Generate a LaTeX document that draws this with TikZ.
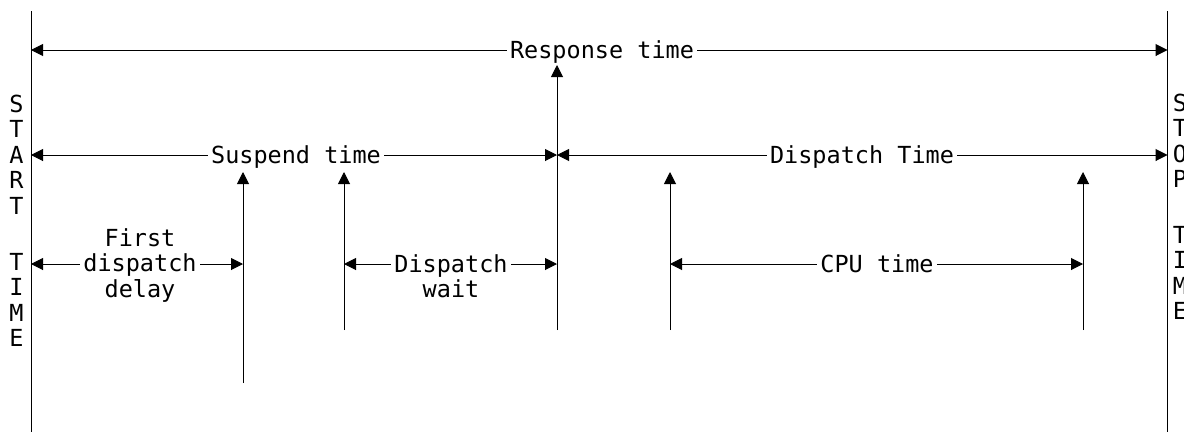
\documentclass[tikz,border=0pt]{standalone}
\usepackage{fontspec}
\newfontfamily\monofont{DejaVu Sans Mono}
\usetikzlibrary{arrows.meta}
\begin{document}
\begin{tikzpicture}[x=1pt,y=-1pt,
  font=\monofont\fontsize{23.5}{25.5}\selectfont,
  rule/.style={line width=1pt,black},
  tip/.tip={Triangle[length=12pt,width=12pt]},
  span/.style={rule,tip-tip},
  riser/.style={rule,-tip},
  lbl/.style={fill=white,inner xsep=3pt,inner ysep=0pt,align=center},
  onel/.style={lbl,text height=17pt,text depth=0pt},
  side/.style={align=center,inner sep=0pt}]
\useasboundingbox (0,0) rectangle (1184,432);

% start and stop boundaries
\coordinate (s0) at (31,11);     \coordinate (s1) at (31,432);
\coordinate (e0) at (1167.5,11); \coordinate (e1) at (1167.5,432);
\draw[rule] (s0) -- (s1);
\draw[rule] (e0) -- (e1);

% event markers
\coordinate (a0) at (243,383);  \coordinate (a1) at (243,172);
\coordinate (b0) at (344,330);  \coordinate (b1) at (344,172);
\coordinate (c0) at (557,330);  \coordinate (c1) at (557,65);
\coordinate (d0) at (670,330);  \coordinate (d1) at (670,172);
\coordinate (f0) at (1083,330); \coordinate (f1) at (1083,172);
\draw[riser] (a0) -- (a1);
\draw[riser] (b0) -- (b1);
\draw[riser] (c0) -- (c1);
\draw[riser] (d0) -- (d1);
\draw[riser] (f0) -- (f1);

% interval rows
\coordinate (rs) at (31,50);    \coordinate (re) at (1167.5,50);
\coordinate (ms) at (31,155);   \coordinate (mc) at (557,155);
\coordinate (me) at (1167.5,155);
\coordinate (ls) at (31,264);   \coordinate (la) at (243,264);
\coordinate (lb) at (344,264);  \coordinate (lc) at (557,264);
\coordinate (ld) at (670,264);  \coordinate (lf) at (1083,264);

\draw[span] (rs) -- (re);
\draw[span] (ms) -- (mc);
\draw[span] (mc) -- (me);
\draw[span] (ls) -- (la);
\draw[span] (lb) -- (lc);
\draw[span] (ld) -- (lf);

% interval labels
\node[onel] (resp) at (602,50)  {Response time};
\node[onel] (susp) at (296,155) {Suspend time};
\node[onel] (disp) at (862,155) {Dispatch Time};
\node[lbl]  (fdd)  at (140,265.3) {First\\dispatch\\delay};
\node[lbl]  (dw)   at (451,276.3) {Dispatch\\wait};
\node[onel] (cpu)  at (877,264) {CPU time};

% boundary captions
\node[side] (st1) at (16.5,154.5) {S\\T\\A\\R\\T};
\node[side] (st2) at (16.5,300)   {T\\I\\M\\E};
\node[side] (sp1) at (1180,141)   {S\\T\\O\\P};
\node[side] (sp2) at (1180,273)   {T\\I\\M\\E};
\end{tikzpicture}
\end{document}
